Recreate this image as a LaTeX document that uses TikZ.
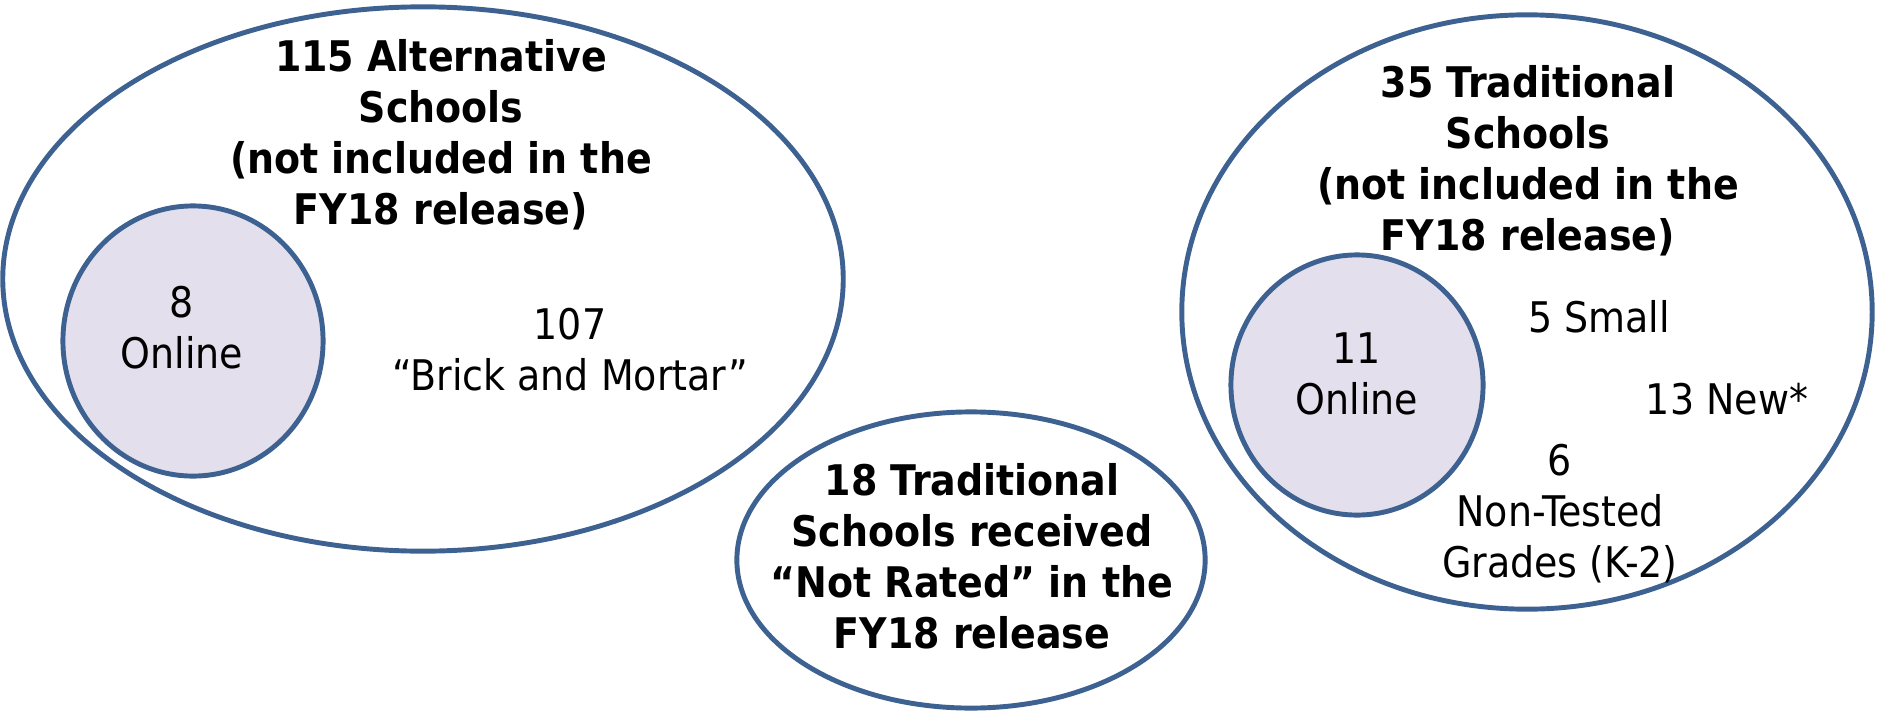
\documentclass[tikz,border=0pt]{standalone}
\usepackage{fontspec}
\setmainfont{DejaVu Sans Condensed}
\usepackage{tikz}
\usetikzlibrary{shapes.geometric}
\definecolor{ringblue}{RGB}{61,98,145}
\definecolor{onlinefill}{RGB}{228,223,236}

\begin{document}
\begin{tikzpicture}[x=0.01cm,y=-0.01cm]
% Set style
\tikzset{
    ring/.style={ellipse,draw=ringblue,line width=1.4pt,inner sep=0pt},
    online/.style={ring,fill=onlinefill},
    lbl/.style={align=center,inner sep=0pt,font=\fontsize{12pt}{14.5pt}\selectfont},
    head/.style={lbl,font=\fontsize{12pt}{14.5pt}\selectfont\bfseries}
}
\useasboundingbox (0,0) rectangle (1878,712);
% Sets
\node[ring,minimum width=8.40cm,minimum height=5.44cm] (ALT) at (423,279){};
\node[online,minimum width=2.60cm,minimum height=2.70cm] (ALTon) at (193,341){};
\node[ring,minimum width=4.68cm,minimum height=2.96cm] (NR) at (971,560){};
\node[ring,minimum width=6.90cm,minimum height=5.94cm] (TRAD) at (1527,312){};
\node[online,minimum width=2.52cm,minimum height=2.60cm] (TRADon) at (1357,385){};
% Labels
\node[head] (ALTt) at (441,135){115 Alternative\\Schools\\(not included in the\\FY18 release)};
\node[lbl] (ALTo) at (182,328){8\\Online};
\node[lbl] (ALTb) at (570,350){107\\“Brick and Mortar”};
\node[head] (NRt) at (972,556){18 Traditional\\Schools received\\“Not Rated” in the\\FY18 release};
\node[head] (TRADt) at (1528,161){35 Traditional\\Schools\\(not included in the\\FY18 release)};
\node[lbl] (TRADo) at (1357,374){11\\Online};
\node[lbl] (SM) at (1599,317){5 Small};
\node[lbl] (NEW) at (1727,399){13 New*};
\node[lbl] (NT) at (1560,514){6\\Non-Tested\\Grades (K-2)};
\end{tikzpicture}
\end{document}
